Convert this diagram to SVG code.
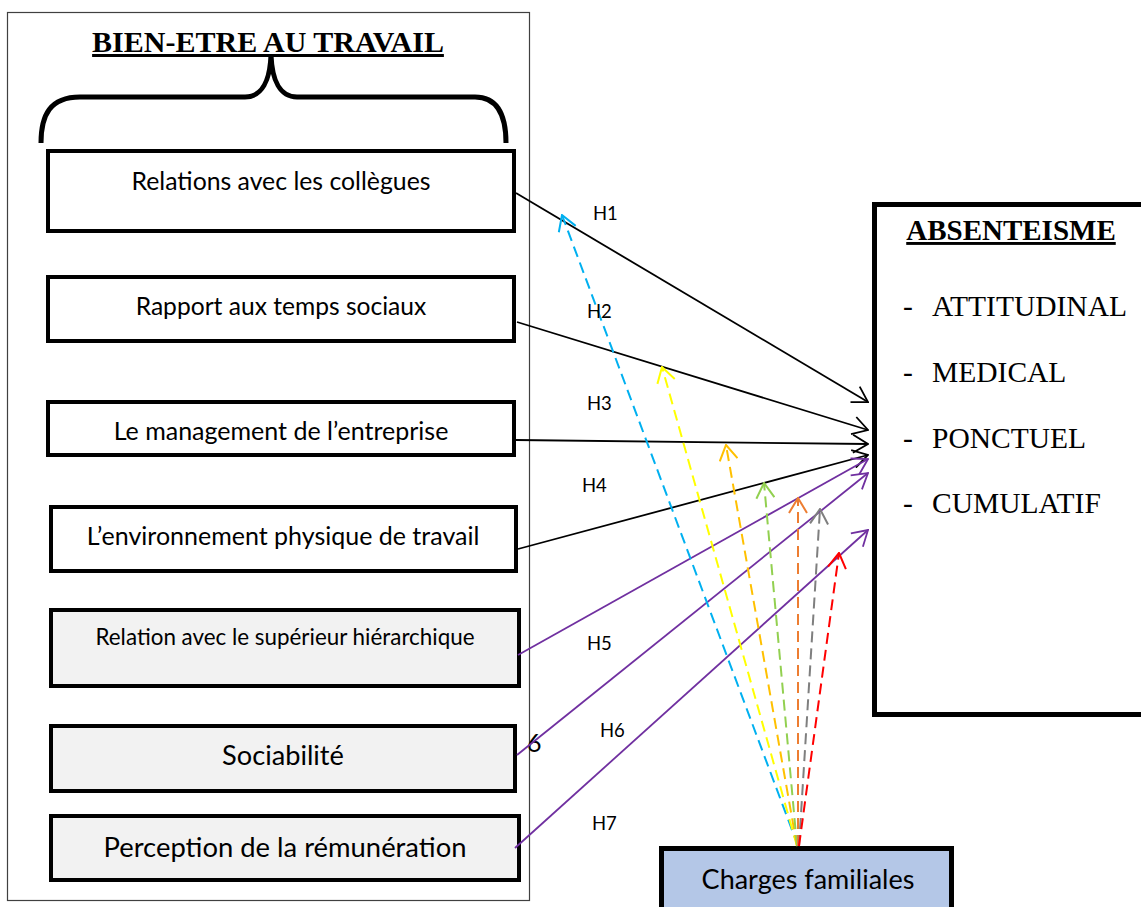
<svg xmlns="http://www.w3.org/2000/svg" width="1141" height="907" viewBox="0 0 1141 907">
<style>
.box{stroke:#000;stroke-width:4;fill:#fff}
.grey{fill:#f2f2f2}
.lbl{font-family:Lato,"Noto Sans",sans-serif;fill:#000;text-anchor:middle}
.h{font-family:Lato,"Noto Sans",sans-serif;font-size:18.5px;fill:#000}
.tt{font-family:"Liberation Serif","Times New Roman",serif;fill:#000}
.sol{fill:none;stroke-width:1.8}
.dsh{fill:none;stroke-width:2;stroke-dasharray:11 6}
</style>
<defs>
<marker id="mk" viewBox="0 0 17 20" refX="16" refY="10" markerWidth="17" markerHeight="20" markerUnits="userSpaceOnUse" orient="auto"><path d="M1,1 L16,10 L1,19" fill="none" stroke="#000" stroke-width="1.8"/></marker>
<marker id="mp" viewBox="0 0 17 20" refX="16" refY="10" markerWidth="17" markerHeight="20" markerUnits="userSpaceOnUse" orient="auto"><path d="M1,1 L16,10 L1,19" fill="none" stroke="#7030a0" stroke-width="1.8"/></marker>
<marker id="mb" viewBox="0 0 17 20" refX="16" refY="10" markerWidth="17" markerHeight="20" markerUnits="userSpaceOnUse" orient="auto"><path d="M1,1 L16,10 L1,19" fill="none" stroke="#00b0f0" stroke-width="2"/></marker>
<marker id="my" viewBox="0 0 17 20" refX="16" refY="10" markerWidth="17" markerHeight="20" markerUnits="userSpaceOnUse" orient="auto"><path d="M1,1 L16,10 L1,19" fill="none" stroke="#ffff00" stroke-width="2"/></marker>
<marker id="mo" viewBox="0 0 17 20" refX="16" refY="10" markerWidth="17" markerHeight="20" markerUnits="userSpaceOnUse" orient="auto"><path d="M1,1 L16,10 L1,19" fill="none" stroke="#ffc000" stroke-width="2"/></marker>
<marker id="mg" viewBox="0 0 17 20" refX="16" refY="10" markerWidth="17" markerHeight="20" markerUnits="userSpaceOnUse" orient="auto"><path d="M1,1 L16,10 L1,19" fill="none" stroke="#92d050" stroke-width="2"/></marker>
<marker id="md" viewBox="0 0 17 20" refX="16" refY="10" markerWidth="17" markerHeight="20" markerUnits="userSpaceOnUse" orient="auto"><path d="M1,1 L16,10 L1,19" fill="none" stroke="#ed7d31" stroke-width="2"/></marker>
<marker id="mr" viewBox="0 0 17 20" refX="16" refY="10" markerWidth="17" markerHeight="20" markerUnits="userSpaceOnUse" orient="auto"><path d="M1,1 L16,10 L1,19" fill="none" stroke="#7f7f7f" stroke-width="2"/></marker>
<marker id="mx" viewBox="0 0 17 20" refX="16" refY="10" markerWidth="17" markerHeight="20" markerUnits="userSpaceOnUse" orient="auto"><path d="M1,1 L16,10 L1,19" fill="none" stroke="#ff0000" stroke-width="2"/></marker>
</defs>
<rect width="1141" height="907" fill="#fff"/>

<g id="bien-etre">
<rect x="7.5" y="12.5" width="522" height="888" fill="none" stroke="#404040" stroke-width="1.2"/>
<text class="tt" x="268" y="52" font-size="30" font-weight="bold" text-anchor="middle" text-decoration="underline">BIEN-ETRE AU TRAVAIL</text>
<path d="M41,143 C41,115 50,97 80,97 L245,97 C262,97 270,80 271,55 C272,80 280,97 297,97 L475,97 C497,97 506,115 506,143" fill="none" stroke="#000" stroke-width="5"/>
</g>

<g id="n1"><rect class="box" x="48" y="151" width="466" height="80"/><text class="lbl" x="281" y="190" font-size="24.8">Relations avec les collègues</text></g>
<g id="n2"><rect class="box" x="48" y="277" width="466" height="64"/><text class="lbl" x="281" y="315" font-size="24.6">Rapport aux temps sociaux</text></g>
<g id="n3"><rect class="box" x="48" y="402" width="466" height="53"/><text class="lbl" x="281" y="440" font-size="25">Le management de l’entreprise</text></g>
<g id="n4"><rect class="box" x="51" y="507" width="465" height="64"/><text class="lbl" x="283" y="545" font-size="25">L’environnement physique de travail</text></g>
<g id="n5"><rect class="box grey" x="51" y="610" width="468" height="76"/><text class="lbl" x="285" y="645" font-size="22.4">Relation avec le supérieur hiérarchique</text></g>
<g id="n6"><rect class="box grey" x="51" y="726" width="464" height="65"/><text class="lbl" x="283" y="765" font-size="27.2">Sociabilité</text></g>
<g id="n7"><rect class="box grey" x="51" y="816" width="468" height="64"/><text class="lbl" x="285" y="857" font-size="27.4">Perception de la rémunération</text></g>
<text class="h" x="527" y="752" style="font-size:25px">6</text>

<g id="absenteisme">
<rect x="874.5" y="204.5" width="300" height="510" fill="#fff" stroke="#000" stroke-width="5"/>
<text class="tt" x="1011" y="240" font-size="29" font-weight="bold" text-anchor="middle" text-decoration="underline">ABSENTEISME</text>
<text class="tt" font-size="29.5"><tspan x="903" y="316">-</tspan><tspan x="932" y="316">ATTITUDINAL</tspan><tspan x="903" y="382">-</tspan><tspan x="932" y="382">MEDICAL</tspan><tspan x="903" y="448">-</tspan><tspan x="932" y="448">PONCTUEL</tspan><tspan x="903" y="513">-</tspan><tspan x="932" y="513">CUMULATIF</tspan></text>
</g>

<g id="charges">
<rect x="661.5" y="848.5" width="290" height="80" fill="#b4c7e7" stroke="#000" stroke-width="5"/>
<text class="lbl" x="808" y="889" font-size="27">Charges familiales</text>
</g>

<g id="connectors">
<line class="sol" stroke="#000" x1="516" y1="193" x2="868" y2="402" marker-end="url(#mk)"/>
<line class="sol" stroke="#000" x1="517" y1="322" x2="868" y2="430" marker-end="url(#mk)"/>
<line class="sol" stroke="#000" x1="516" y1="440" x2="868" y2="444" marker-end="url(#mk)"/>
<line class="sol" stroke="#000" x1="518" y1="549" x2="868" y2="455" marker-end="url(#mk)"/>
<line class="sol" stroke="#7030a0" x1="518" y1="655" x2="868" y2="459" marker-end="url(#mp)"/>
<line class="sol" stroke="#7030a0" x1="517" y1="755" x2="868" y2="473" marker-end="url(#mp)"/>
<line class="sol" stroke="#7030a0" x1="515" y1="848" x2="868" y2="530" marker-end="url(#mp)"/>
<line class="dsh" stroke="#00b0f0" x1="798" y1="846" x2="562" y2="215" marker-end="url(#mb)"/>
<line class="dsh" stroke="#ffff00" x1="797" y1="846" x2="662" y2="367" marker-end="url(#my)"/>
<line class="dsh" stroke="#ffc000" x1="797" y1="846" x2="726" y2="445" marker-end="url(#mo)"/>
<line class="dsh" stroke="#92d050" x1="797" y1="846" x2="764" y2="483" marker-end="url(#mg)"/>
<line class="dsh" stroke="#ed7d31" x1="798" y1="846" x2="798" y2="498" marker-end="url(#md)"/>
<line class="dsh" stroke="#7f7f7f" x1="799" y1="846" x2="820" y2="509" marker-end="url(#mr)"/>
<line class="dsh" stroke="#ff0000" x1="799" y1="846" x2="839" y2="553" marker-end="url(#mx)"/>
<text class="h" x="593" y="220">H1</text>
<text class="h" x="587" y="318">H2</text>
<text class="h" x="587" y="410">H3</text>
<text class="h" x="582" y="492">H4</text>
<text class="h" x="587" y="650">H5</text>
<text class="h" x="600" y="737">H6</text>
<text class="h" x="592" y="830">H7</text>
</g>
</svg>
